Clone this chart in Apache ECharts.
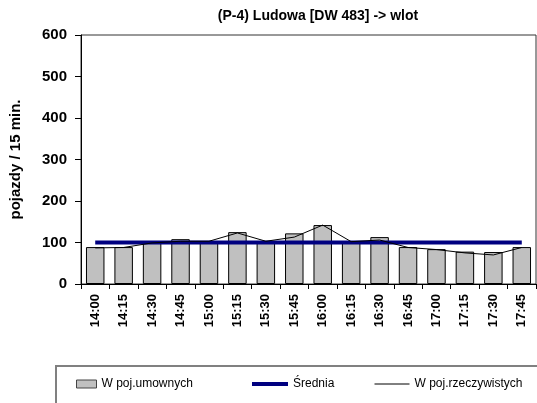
<!DOCTYPE html>
<html>
<head>
<meta charset="utf-8">
<script src="https://cdn.jsdelivr.net/npm/echarts@6/dist/echarts.min.js"></script>
<style>
html,body{margin:0;padding:0;background:#fff;}
#c{width:537px;height:403px;}
</style>
</head>
<body>
<div id="c"></div>
<script>
var categories = ['14:00','14:15','14:30','14:45','15:00','15:15','15:30','15:45','16:00','16:15','16:30','16:45','17:00','17:15','17:30','17:45'];
var umownych = [89, 89, 99, 108, 99, 125, 100, 122, 142, 101, 113, 89, 84, 78, 77, 89];
var srednia = [100, 100, 100, 100, 100, 100, 100, 100, 100, 100, 100, 100, 100, 100, 100, 100];
var rzeczywistych = [87, 88, 99, 103, 103, 123, 103, 113, 142, 102, 106, 88, 83, 75, 70, 88];
var yTicks = [0, 100, 200, 300, 400, 500, 600];

var FONT = 'Arial, "Liberation Sans", sans-serif';
var chart = echarts.init(document.getElementById('c'), null, {renderer: 'canvas'});
chart.setOption({
  animation: false,
  backgroundColor: '#fff',
  title: {
    text: '(P-4) Ludowa [DW 483] -> wlot',
    left: 313, top: 4, textAlign: 'center',
    textStyle: {fontFamily: FONT, fontWeight: 'bold', fontSize: 14, color: '#000'}
  },
  grid: {left: 80, right: 1, top: 35, bottom: 119, show: true, borderColor: '#333', borderWidth: 1, backgroundColor: 'transparent'},
  legend: [
    {data: [{name: 'W poj.umownych', icon: 'rect', itemStyle: {borderColor: '#444', borderWidth: 1}}], left: 71, top: 373, itemWidth: 20, itemHeight: 8,
     textStyle: {fontFamily: FONT, fontSize: 12, color: '#000'}},
    {data: ['Średnia'], left: 245, top: 373, itemWidth: 36, itemHeight: 12,
     itemStyle: {opacity: 0}, lineStyle: {opacity: 1, width: 4, color: '#000080'},
     textStyle: {fontFamily: FONT, fontSize: 12, color: '#000'}},
    {data: ['W poj.rzeczywistych'], left: 369, top: 373, itemWidth: 35, itemHeight: 12,
     itemStyle: {opacity: 0}, lineStyle: {opacity: 1, width: 1, color: '#000'},
     textStyle: {fontFamily: FONT, fontSize: 12, color: '#000'}}
  ],
  graphic: [{
    type: 'rect', left: 55, top: 365, z: -1,
    shape: {width: 490, height: 50},
    style: {fill: '#fff', stroke: '#808080', lineWidth: 2}
  }],
  xAxis: {
    type: 'category', data: categories,
    axisLine: {lineStyle: {color: '#000', width: 1}},
    axisTick: {show: true, inside: false, length: 5, lineStyle: {color: '#000'}},
    axisLabel: {rotate: 90, margin: 10, fontFamily: FONT, fontWeight: 'bold', fontSize: 13, color: '#000'}
  },
  yAxis: {
    type: 'value', min: 0, max: 600, interval: 100,
    name: 'pojazdy / 15 min.', nameLocation: 'middle', nameGap: 58, nameRotate: 90,
    nameTextStyle: {fontFamily: FONT, fontWeight: 'bold', fontSize: 15, color: '#000'},
    axisLine: {show: true, lineStyle: {color: '#000', width: 1}},
    axisTick: {show: true, length: 6, lineStyle: {color: '#000'}},
    splitLine: {show: false},
    axisLabel: {margin: 14, fontFamily: FONT, fontWeight: 'bold', fontSize: 15, color: '#000',
      formatter: function (v) { return yTicks.indexOf(v) >= 0 ? String(v) : ''; }}
  },
  series: [
    {name: 'W poj.umownych', type: 'bar', data: umownych, barCategoryGap: '35%',
     itemStyle: {color: '#c0c0c0', borderColor: '#000', borderWidth: 1}},
    {name: 'Średnia', type: 'line', data: srednia, symbol: 'none', z: 3,
     lineStyle: {color: '#000080', width: 4}, itemStyle: {color: '#000080'}},
    {name: 'W poj.rzeczywistych', type: 'line', data: rzeczywistych, symbol: 'none', z: 4,
     lineStyle: {color: '#000', width: 1}, itemStyle: {color: '#000'}}
  ]
});
</script>
</body>
</html>
